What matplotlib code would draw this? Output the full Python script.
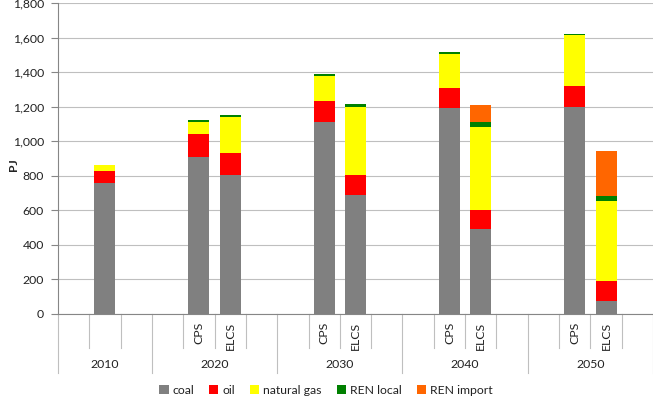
import matplotlib
matplotlib.use("Agg")
import matplotlib.pyplot as plt
from matplotlib.patches import Patch
import numpy as np

plt.rcParams['font.family'] = ['Lato', 'DejaVu Sans']

# ---- data ----
categories = ["", "", "",
              "", "CPS", "ELCS", "",
              "", "CPS", "ELCS", "",
              "", "CPS", "ELCS", "",
              "", "CPS", "ELCS", ""]
years = ["2010", "2020", "2030", "2040", "2050"]
year_sizes = [3, 4, 4, 4, 4]

coal       = [0, 760, 0, 0, 910, 803, 0, 0, 1111, 689, 0, 0, 1194, 492, 0, 0, 1197, 77, 0]
oil        = [0, 68, 0, 0, 130, 127, 0, 0, 124, 115, 0, 0, 116, 108, 0, 0, 124, 114, 0]
natural_gas= [0, 34, 0, 0, 71, 212, 0, 0, 144, 392, 0, 0, 197, 482, 0, 0, 294, 463, 0]
ren_local  = [0, 0, 0, 0, 12, 10, 0, 0, 10, 18, 0, 0, 11, 29, 0, 0, 7, 31, 0]
ren_import = [0, 0, 0, 0, 0, 0, 0, 0, 0, 0, 0, 0, 0, 99, 0, 0, 0, 258, 0]

series_names = ["coal", "oil", "natural gas", "REN local", "REN import"]
series_vals = [coal, oil, natural_gas, ren_local, ren_import]
colors = ["#808080", "#FF0000", "#FFFF00", "#008000", "#FF6600"]

yticks = [0, 200, 400, 600, 800, 1000, 1200, 1400, 1600, 1800]

# ---- figure ----
W, H = 653, 398
fig = plt.figure(figsize=(W / 100, H / 100), dpi=100)
ax_left, ax_right, ax_top, ax_bot = 58, 653, 3, 314
ax = fig.add_axes([ax_left / W, 1 - ax_bot / H, (ax_right - ax_left) / W, (ax_bot - ax_top) / H])
axh = ax_bot - ax_top

x = np.arange(len(categories))
bottom = np.zeros(len(categories))
for name, vals, c in zip(series_names, series_vals, colors):
    v = np.array(vals, dtype=float)
    mask = v > 0
    ax.bar(x[mask], v[mask], width=0.67, bottom=bottom[mask], color=c, linewidth=0, zorder=3)
    bottom += v

ax.set_xlim(-0.5, len(categories) - 0.5)
ax.set_ylim(0, 1800)
ax.set_yticks(yticks)
ax.set_yticklabels([f"{t:,}" for t in yticks])
ax.tick_params(axis='y', direction='out', length=5, width=0.8, color='#868686',
               labelsize=8.8, labelcolor='#222222', pad=5)
ax.set_xticks([])
ax.yaxis.grid(True, color='#BFBFBF', linewidth=0.8, zorder=0)
ax.set_axisbelow(True)
for s in ['top', 'right']:
    ax.spines[s].set_visible(False)
ax.spines['left'].set_color('#868686')
ax.spines['bottom'].set_color('#868686')
ax.spines['left'].set_linewidth(0.8)
ax.spines['bottom'].set_linewidth(0.8)

# ---- multi-level category axis ----
tr = ax.get_xaxis_transform()
sub_len = -34 / axh
grp_len = -59 / axh
group_bounds = np.cumsum([0] + year_sizes) - 0.5
for b in np.arange(-0.5, len(categories), 1.0):
    if np.any(np.isclose(b, group_bounds)):
        ax.plot([b, b], [0, grp_len], transform=tr, color='#BFBFBF', lw=0.8, clip_on=False)
    else:
        ax.plot([b, b], [0, sub_len], transform=tr, color='#BFBFBF', lw=0.8, clip_on=False)

for xi, lab in zip(x, categories):
    if lab:
        ax.text(xi, -8 / axh, lab, transform=tr, rotation=90, ha='center', va='top',
                fontsize=8.8, color='#222222')

for i, yr in enumerate(years):
    cx = (group_bounds[i] + group_bounds[i + 1]) / 2
    ax.text(cx, -51 / axh, yr, transform=tr, ha='center', va='center',
            fontsize=8.8, color='#222222')

fig.text(13 / W, 1 - 165 / H, "PJ", rotation=90, ha='center', va='center',
         fontsize=8.8, fontweight='bold', color='#222222')

handles = [Patch(facecolor=c, edgecolor='none', label=n) for n, c in zip(series_names, colors)]
fig.legend(handles=handles, loc='center', bbox_to_anchor=(326 / W, 1 - 390 / H), ncol=5,
           frameon=False, fontsize=8.8, handlelength=0.75, handleheight=0.75,
           handletextpad=0.35, columnspacing=1.2, labelcolor='#222222')

fig.savefig("out.png", dpi=100)
